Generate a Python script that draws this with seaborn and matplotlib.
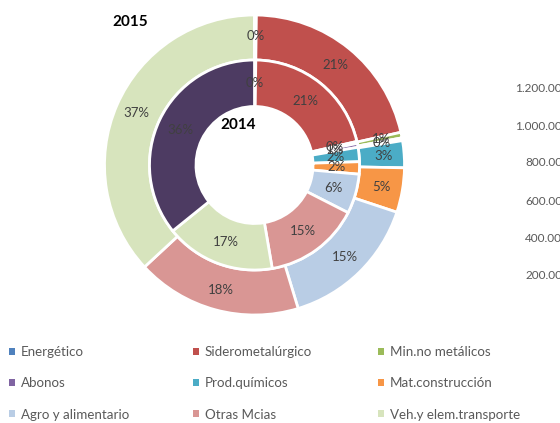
import matplotlib
matplotlib.use("Agg")
import matplotlib.pyplot as plt
import seaborn as sns
from matplotlib.patches import Patch

sns.set_theme(style="white")
plt.rcParams['font.family'] = ['Lato', 'DejaVu Sans']

# ---- data ----
categories = ["Energético", "Siderometalúrgico", "Min.no metálicos", "Abonos",
              "Prod.químicos", "Mat.construcción", "Agro y alimentario",
              "Otras Mcias", "Veh.y elem.transporte", "Otros"]
share_2014 = [0.2, 21.2, 0.3, 0.6, 2.2, 1.9, 6.1, 14.8, 16.9, 35.8]
share_2015 = [0.2, 21.3, 0.6, 0.3, 2.9, 4.8, 15.2, 17.8, 36.9, 0.0]
colors = sns.color_palette(["#4F81BD", "#C0504D", "#9BBB59", "#8064A2", "#4BACC6",
                            "#F79646", "#B9CDE5", "#D99694", "#D7E4BD", "#4D3B62"])
axis_ticks = ["1.200.000", "1.000.000", "800.000", "600.000", "400.000", "200.000"]
legend_order = [["Energético", "Abonos", "Agro y alimentario"],
                ["Siderometalúrgico", "Prod.químicos", "Otras Mcias"],
                ["Min.no metálicos", "Mat.construcción", "Veh.y elem.transporte"]]

W, H = 560, 423
fig = plt.figure(figsize=(W / 100, H / 100), dpi=100)
fig.patch.set_facecolor("white")

cx, cy, R = 254.5, 165, 150
ax = fig.add_axes([(cx - R) / W, (H - cy - R) / H, 2 * R / W, 2 * R / H])
ax.set_aspect("equal")
ax.axis("off")

def fmt(p):
    return "" if p < 0.05 else f"{p:.0f}%"

lbl = dict(color="#404040", fontsize=9.5)
ax.pie(share_2015, colors=colors, radius=1.0, startangle=90, counterclock=False,
       autopct=fmt, pctdistance=0.86, textprops=lbl,
       wedgeprops=dict(width=0.3, edgecolor="white", linewidth=2))
ax.pie(share_2014, colors=colors, radius=0.70, startangle=90, counterclock=False,
       autopct=fmt, pctdistance=0.78, textprops=lbl,
       wedgeprops=dict(width=0.31, edgecolor="white", linewidth=2))
ax.set_xlim(-1, 1)
ax.set_ylim(-1, 1)

fig.text(130 / W, 1 - 22 / H, "2015", ha="center", va="center", fontsize=11,
         fontweight="bold", color="black")
fig.text(238 / W, 1 - 125 / H, "2014", ha="center", va="center", fontsize=11,
         fontweight="bold", color="black")

# residual value axis labels on the right (cut off)
ys = [88, 126, 163, 201, 238, 275]
for t, y in zip(axis_ticks, ys):
    fig.text(569 / W, 1 - y / H, t, ha="right", va="center", fontsize=8.5, color="#595959")

# legend: three columns
col_x = [9, 193, 378]
cmap = dict(zip(categories, colors))
for x, names in zip(col_x, legend_order):
    handles = [Patch(facecolor=cmap[n], edgecolor="none") for n in names]
    fig.legend(handles, names, loc="upper left", bbox_to_anchor=(x / W, 1 - 346 / H),
               frameon=False, fontsize=9.6, handlelength=0.45, handleheight=0.45,
               handletextpad=0.45, labelspacing=1.45, labelcolor="#595959",
               borderpad=0, borderaxespad=0)

fig.savefig("out.png", dpi=100, facecolor="white")
